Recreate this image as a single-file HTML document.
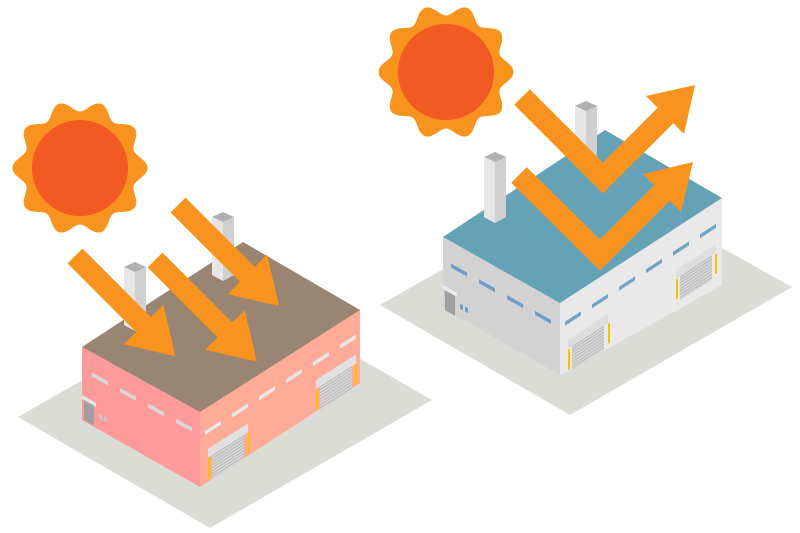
<!DOCTYPE html>
<html><head><meta charset="utf-8"><style>html,body{margin:0;padding:0;background:#fff}svg{display:block}</style></head>
<body>
<svg id="s" width="800" height="533" viewBox="0 0 800 533" xmlns="http://www.w3.org/2000/svg">
<defs>
<pattern id="sh" width="4" height="3" patternUnits="userSpaceOnUse"><rect width="4" height="3" fill="#d6d6d6"/><rect width="4" height="1" fill="#b4b4b4"/></pattern>
</defs>
<polygon points="18,417 210,528 432,400 240,290" fill="#dcdcd6"/>
<polygon points="380,305 570,415 792,287 600,180" fill="#dcdcd6"/>

<g>
<polygon points="82,347 200,412 200,487 82,420" fill="#ff9a9a"/>
<polygon points="200,412 360,310 360,383 200,487" fill="#ffab98"/>
<g transform="matrix(1,0.551,0,1,82,347)">
  <g fill="#d8d8d8">
    <rect x="10" y="20" width="16" height="4"/><rect x="38" y="20" width="16" height="4"/>
    <rect x="66" y="20" width="16" height="4"/><rect x="94" y="20" width="16" height="4"/>
  </g>
  <rect x="2" y="52" width="10" height="20" fill="#a0a0a0"/>
  <rect x="0" y="48" width="14" height="4" fill="#e4e4e4"/>
  <rect x="17" y="57" width="3" height="5" fill="#c8c8c8"/><rect x="22" y="57" width="3" height="5" fill="#c8c8c8"/>
</g>
<g transform="matrix(1,-0.6375,0,1,200,412)">
  <g fill="#e8e8e8">
    <rect x="5" y="22" width="16" height="4"/><rect x="32" y="22" width="16" height="4"/>
    <rect x="59" y="22" width="16" height="4"/><rect x="86" y="22" width="16" height="4"/>
    <rect x="113" y="22" width="16" height="4"/><rect x="140" y="22" width="16" height="4"/>
  </g>
  <rect x="12" y="50" width="32" height="25" fill="url(#sh)"/>
  <rect x="8" y="42" width="40" height="9" fill="#e0e0e0"/>
  <rect x="8" y="52" width="2" height="20" fill="#f5c400"/><rect x="48" y="52" width="2" height="20" fill="#f5c400"/>
  <rect x="120" y="50" width="32" height="25" fill="url(#sh)"/>
  <rect x="116" y="42" width="40" height="9" fill="#e0e0e0"/>
  <rect x="116" y="52" width="2" height="20" fill="#f5c400"/><rect x="155" y="52" width="2" height="20" fill="#f5c400"/>
</g>
<polygon points="82,347 243,242 360,310 200,412" fill="#9a8572"/>
<polygon points="124,267 135,262 146,267 146,325 135,331 124,325" fill="#e6e6e6"/>
<polygon points="135,268 146,267 146,325 135,331" fill="#d0d0d0"/>
<polygon points="124,267 135,262 146,267 135,272" fill="#b0b0b0"/>
<polygon points="212,217 223,212 234,217 234,275 223,281 212,275" fill="#e6e6e6"/>
<polygon points="223,222 234,217 234,275 223,281" fill="#d0d0d0"/>
<polygon points="212,217 223,212 234,217 223,222" fill="#b0b0b0"/>
</g>

<g>
<polygon points="443,237 560,303 560,375 443,308" fill="#d2d2d2"/>
<polygon points="560,303 722,198 722,285 560,375" fill="#e9e9e9"/>
<g transform="matrix(1,0.564,0,1,443,237)">
  <g fill="#6f9ccb">
    <rect x="8" y="22" width="16" height="4"/><rect x="36" y="22" width="16" height="4"/>
    <rect x="64" y="22" width="16" height="4"/><rect x="92" y="22" width="16" height="4"/>
  </g>
  <rect x="2" y="52" width="10" height="20" fill="#a0a0a0"/>
  <rect x="0" y="48" width="14" height="4" fill="#ebebeb"/>
  <rect x="17" y="57" width="3" height="5" fill="#6f9ccb"/><rect x="22" y="57" width="3" height="5" fill="#6f9ccb"/>
</g>
<g transform="matrix(1,-0.648,0,1,560,303)">
  <g fill="#6fa6c4">
    <rect x="5" y="22" width="16" height="4"/><rect x="32" y="22" width="16" height="4"/>
    <rect x="59" y="22" width="16" height="4"/><rect x="86" y="22" width="16" height="4"/>
    <rect x="113" y="22" width="16" height="4"/><rect x="140" y="22" width="16" height="4"/>
  </g>
  <rect x="12" y="50" width="32" height="25" fill="url(#sh)"/>
  <rect x="8" y="42" width="40" height="9" fill="#dedede"/>
  <rect x="8" y="52" width="2" height="20" fill="#f5c400"/><rect x="48" y="52" width="2" height="20" fill="#f5c400"/>
  <rect x="120" y="50" width="32" height="25" fill="url(#sh)"/>
  <rect x="116" y="42" width="40" height="9" fill="#dedede"/>
  <rect x="116" y="52" width="2" height="20" fill="#f5c400"/><rect x="155" y="52" width="2" height="20" fill="#f5c400"/>
</g>
<polygon points="443,237 605,130 722,198 560,303" fill="#66a2b5"/>
<polygon points="484,157 495,152 506,157 506,217 495,223 484,217" fill="#e6e6e6"/>
<polygon points="495,162 506,157 506,217 495,223" fill="#d0d0d0"/>
<polygon points="484,157 495,152 506,157 495,162" fill="#b0b0b0"/>
<polygon points="575,106 586,101 597,106 597,165 586,170 575,165" fill="#e6e6e6"/>
<polygon points="586,111 597,106 597,165 586,170" fill="#d0d0d0"/>
<polygon points="575,106 586,101 597,106 586,111" fill="#b0b0b0"/>
</g>

<path id="sun1" fill="#f7931e"/>
<circle cx="80" cy="168" r="48" fill="#f15a22"/>
<path id="sun2" fill="#f7931e"/>
<circle cx="446" cy="72" r="48" fill="#f15a22"/>

<g fill="#f7931e">
<g transform="translate(75,256) rotate(45)"><path d="M0,-10.5 L97,-10.5 L97,-28 L142,0 L97,28 L97,10.5 L0,10.5Z"/></g>
<g transform="translate(155,260) rotate(45)"><path d="M0,-10.5 L99,-10.5 L99,-28 L144,0 L99,28 L99,10.5 L0,10.5Z"/></g>
<g transform="translate(178,205) rotate(45)"><path d="M0,-10.5 L98,-10.5 L98,-28 L143,0 L98,28 L98,10.5 L0,10.5Z"/></g>
</g>
<g fill="none" stroke="#f7931e" stroke-width="22" stroke-linejoin="miter">
<polyline points="522,97 603,178 668,113"/>
<polyline points="519,175 600,255 667,188"/>
</g>
<g fill="#f7931e">
<polygon points="646,96 695,85 684,134"/>
<polygon points="643,174 693,162 681,212"/>
</g>
</svg>
<script>
function sun(id,cx,cy){var d="";for(var i=0;i<=360;i++){var t=i*Math.PI/180;var r=62-5.5*Math.cos(10*t);var x=cx+r*Math.sin(t),y=cy-r*Math.cos(t);d+=(i?"L":"M")+x.toFixed(1)+","+y.toFixed(1);}document.getElementById(id).setAttribute("d",d+"Z");}
sun("sun1",80,168);sun("sun2",446,72);
</script>
</body></html>
